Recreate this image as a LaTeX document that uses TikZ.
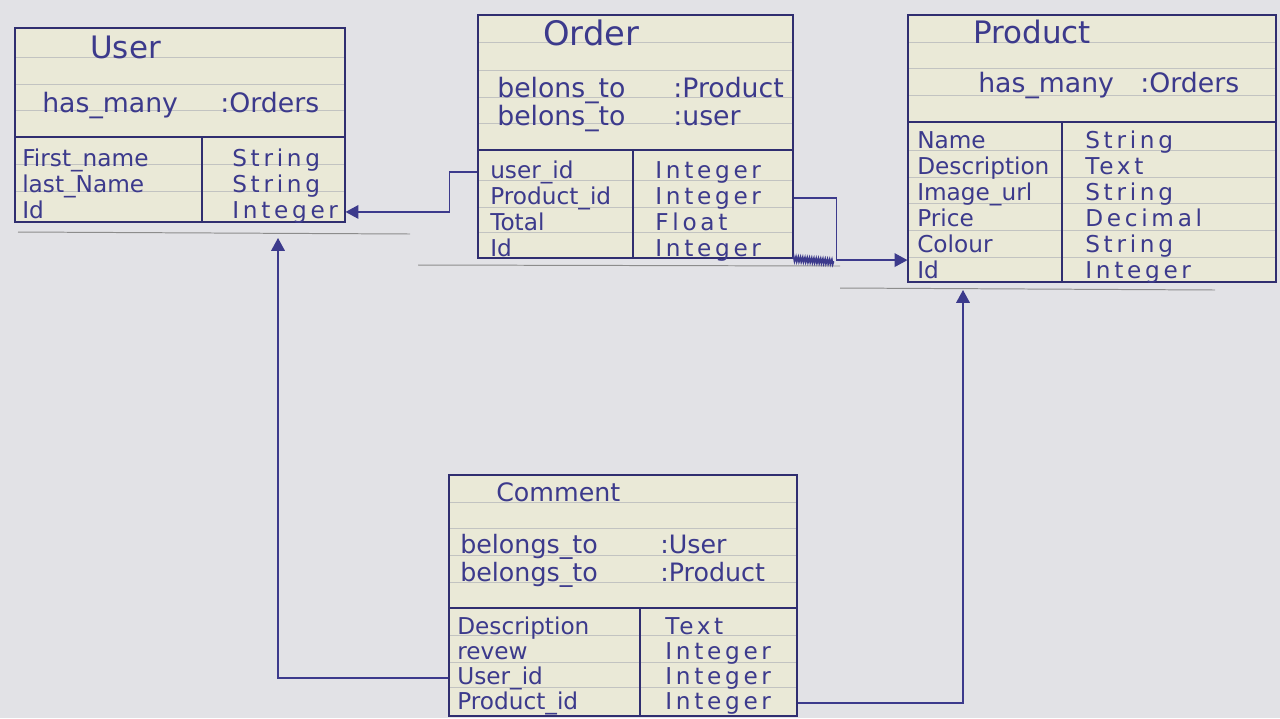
\documentclass[tikz,border=0pt]{standalone}
\usepackage{fontspec}
\setmainfont{DejaVu Sans}
\newfontfamily\typefont[LetterSpace=16]{DejaVu Sans}
\usetikzlibrary{fit,arrows.meta,decorations.pathmorphing}

\definecolor{ink}{HTML}{3C3A8C}
\definecolor{paper}{HTML}{EAE9D7}
\definecolor{board}{HTML}{E2E2E6}
\definecolor{ruling}{HTML}{C2C3C1}

\begin{document}
\begin{tikzpicture}[x=0.025cm,y=-0.025cm,
    card/.style={draw=ink!80!black, line width=0.8pt, fill=paper, inner sep=0pt},
    ruled/.style={ruling, line width=0.5pt},
    divider/.style={ink!80!black, line width=0.8pt},
    edge/.style={black!45, line width=0.7pt},
    title/.style={anchor=base west, inner sep=0pt, text=ink},
    assoc/.style={anchor=base west, inner sep=0pt, text=ink, font=\fontsize{19}{20}\selectfont},
    cell/.style={anchor=base west, inner sep=0pt, text=ink, font=\fontsize{16.5}{18}\selectfont},
    kind/.style={cell, font=\fontsize{16.5}{18}\typefont},
    link/.style={draw=ink, line width=0.9pt, -{Triangle[length=3.2mm,width=3.4mm]}},
]

\fill[board] (0,0) rectangle (1280,718);
\useasboundingbox (0,0) rectangle (1280,718);

% paper edges on the board
\draw[edge] (18,232) -- (410,234);
\draw[edge] (418,265) -- (840,266);
\draw[edge] (840,288) -- (1215,290);

% User
\node[card, fit={(15,28) (345,222)}] (user) {};
\foreach \y in {57,84,110,164,191} \draw[ruled] (16,\y) -- (344,\y);
\draw[divider] (15,137) -- (345,137);
\draw[divider] (202,137) -- (202,222);
\node[title, font=\fontsize{22}{22}\selectfont] (user-title) at (90,58) {User};
\node[assoc] (user-assoc) at (42,112) {\makebox[4.45cm][l]{has\_many}:Orders};
\foreach \n/\t [count=\i] in {First\_name/String, last\_Name/String, Id/Integer} {
  \node[cell] (user-n\i) at (22,{140+26*\i}) {\n};
  \node[kind] (user-t\i) at (232,{140+26*\i}) {\t};
}

% Order
\node[card, fit={(478,15) (793,258)}] (order) {};
\foreach \y in {42,70,97,123,180,207,232} \draw[ruled] (479,\y) -- (792,\y);
\draw[divider] (478,150) -- (793,150);
\draw[divider] (633,150) -- (633,258);
\node[title, font=\fontsize{24}{24}\selectfont] (order-title) at (543,45) {Order};
\node[assoc] (order-assoc1) at (497,97) {\makebox[4.4cm][l]{belons\_to}:Product};
\node[assoc] (order-assoc2) at (497,125) {\makebox[4.4cm][l]{belons\_to}:user};
\foreach \n/\t [count=\i] in {user\_id/Integer, Product\_id/Integer, Total/Float, Id/Integer} {
  \node[cell] (order-n\i) at (490,{152+26*\i}) {\n};
  \node[kind] (order-t\i) at (655,{152+26*\i}) {\t};
}

% Product
\node[card, fit={(908,15) (1276,282)}] (product) {};
\foreach \y in {42,68,95,150,177,203,230,257} \draw[ruled] (909,\y) -- (1275,\y);
\draw[divider] (908,122) -- (1276,122);
\draw[divider] (1062,122) -- (1062,282);
\node[title, font=\fontsize{22}{22}\selectfont] (product-title) at (973,43) {Product};
\node[assoc] (product-assoc) at (978,92) {\makebox[4.05cm][l]{has\_many}:Orders};
\foreach \n/\t [count=\i] in {Name/String, Description/Text, Image\_url/String, Price/Decimal, Colour/String, Id/Integer} {
  \node[cell] (product-n\i) at (917,{122+26*\i}) {\n};
  \node[kind] (product-t\i) at (1085,{122+26*\i}) {\t};
}

% Comment
\node[card, fit={(449,475) (797,716)}] (comment) {};
\foreach \y in {502,528,555,582,635,662,687} \draw[ruled] (450,\y) -- (796,\y);
\draw[divider] (449,608) -- (797,608);
\draw[divider] (640,608) -- (640,716);
\node[title, font=\fontsize{18}{18}\selectfont] (comment-title) at (496,501) {Comment};
\node[assoc, font=\fontsize{18}{19}\selectfont] (comment-assoc1) at (460,553) {\makebox[5cm][l]{belongs\_to}:User};
\node[assoc, font=\fontsize{18}{19}\selectfont] (comment-assoc2) at (460,581) {\makebox[5cm][l]{belongs\_to}:Product};
\foreach \n/\t [count=\i] in {Description/Text, revew/Integer, User\_id/Integer, Product\_id/Integer} {
  \node[cell] (comment-n\i) at (457,{609+25*\i}) {\n};
  \node[kind] (comment-t\i) at (665,{609+25*\i}) {\t};
}

% connectors
\coordinate (user-foot) at (278,238);
\coordinate (product-foot) at (963,290);

\draw[link] (order.west |- order-n1) -- ++(-28,0) |- (user.east |- user-t3);
\draw[link] (order.east |- order-t2) -- ++(43,0) |- (product.west |- product-n6.north);
\draw[ink, line width=1.2pt, decorate, decoration={zigzag, segment length=1.6pt, amplitude=1.6pt}]
  (793,259) -- (834,262);
\draw[link] (comment.west |- comment-n3) -| (user-foot);
\draw[link] (comment.east |- comment-t4) -| (product-foot);

\end{tikzpicture}
\end{document}
